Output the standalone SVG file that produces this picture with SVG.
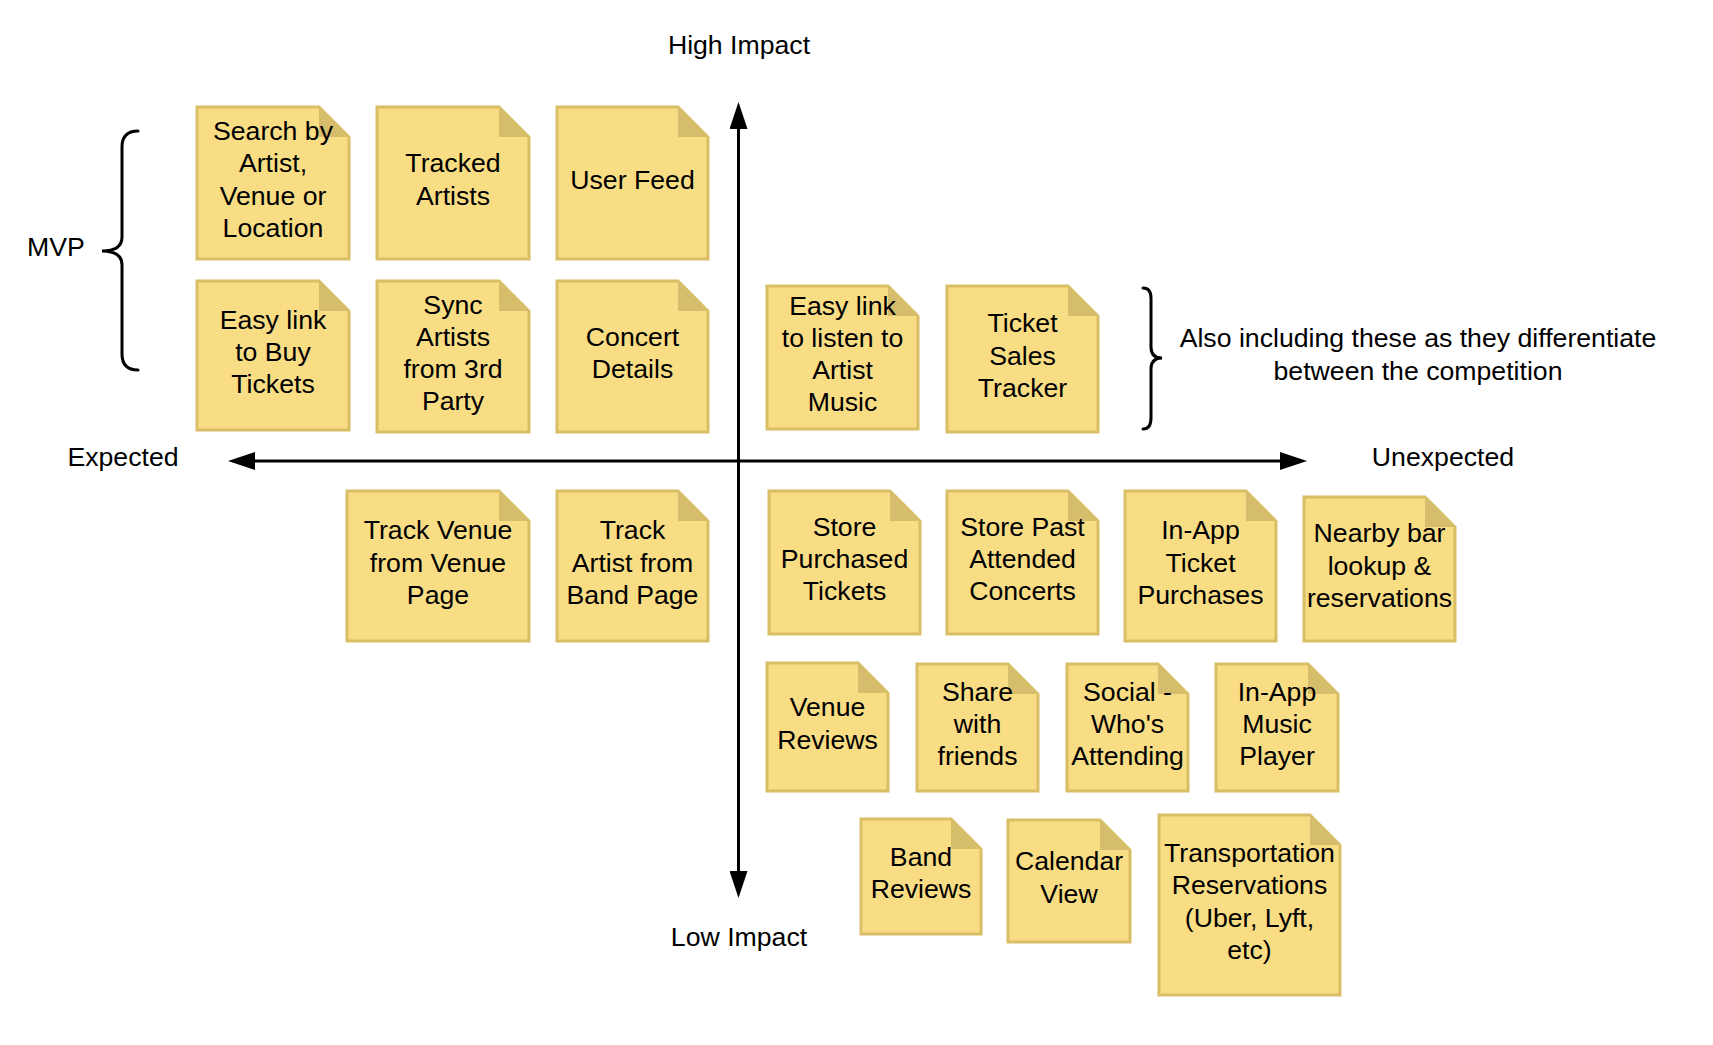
<svg xmlns="http://www.w3.org/2000/svg" width="1713" height="1045" viewBox="0 0 1713 1045">
<style>
  .note { fill: #F8DD84; stroke: #D9BE66; stroke-width: 3; stroke-linejoin: miter; }
  .fold { fill: #D6BD6C; stroke: none; }
  text { font-family: "Liberation Sans", Arial, sans-serif; font-size: 26.67px; fill: #000; text-anchor: middle; }
  .axis { stroke: #000; stroke-width: 3; fill: none; }
  .brace { stroke: #000; stroke-width: 3; fill: none; stroke-linecap: round; }
</style>
<defs>
  <marker id="arrow" markerUnits="userSpaceOnUse" markerWidth="27" markerHeight="18" refX="21" refY="9" orient="auto-start-reverse" viewBox="0 0 27 18">
    <path d="M0,0 L27,9 L0,18 Z" fill="#000"/>
  </marker>
</defs>
<rect width="1713" height="1045" fill="#fff"/>

<g id="connectors">
  <path class="axis" d="M738.5,108 V892" marker-start="url(#arrow)" marker-end="url(#arrow)"/>
  <path class="axis" d="M234,461 H1301" marker-start="url(#arrow)" marker-end="url(#arrow)"/>
</g>

<g id="labels">
  <text x="739" y="54">High Impact</text>
  <text x="739" y="946">Low Impact</text>
  <text x="123" y="466">Expected</text>
  <text x="1443" y="466">Unexpected</text>
  <text x="56" y="256">MVP</text>
  <text x="1418" y="347">Also including these as they differentiate</text>
  <text x="1418" y="380">between the competition</text>
</g>

<g id="braces">
  <path class="brace" d="M138,131 Q122,131 122,147 V237 Q122,251 102,251 Q122,251 122,265 V354 Q122,370 138,370"/>
  <path class="brace" d="M1143,288 Q1151,288 1151,298 V347 Q1151,358 1162,358 Q1151,358 1151,369 V418 Q1151,429 1143,429"/>
</g>

<g id="n1">
  <path class="note" d="M197,107 H319 L349,137 V259 H197 Z"/>
  <path class="fold" d="M319,107 V137 H349 Z"/>
  <text x="273" y="140.2">Search by</text><text x="273" y="172.4">Artist,</text><text x="273" y="204.6">Venue or</text><text x="273" y="236.8">Location</text>
</g>
<g id="n2">
  <path class="note" d="M377,107 H499 L529,137 V259 H377 Z"/>
  <path class="fold" d="M499,107 V137 H529 Z"/>
  <text x="453" y="172.4">Tracked</text><text x="453" y="204.6">Artists</text>
</g>
<g id="n3">
  <path class="note" d="M557,107 H678 L708,137 V259 H557 Z"/>
  <path class="fold" d="M678,107 V137 H708 Z"/>
  <text x="632.5" y="188.5">User Feed</text>
</g>
<g id="n4">
  <path class="note" d="M197,281 H319 L349,311 V430 H197 Z"/>
  <path class="fold" d="M319,281 V311 H349 Z"/>
  <text x="273" y="328.8">Easy link</text><text x="273" y="361">to Buy</text><text x="273" y="393.2">Tickets</text>
</g>
<g id="n5">
  <path class="note" d="M377,281 H499 L529,311 V432 H377 Z"/>
  <path class="fold" d="M499,281 V311 H529 Z"/>
  <text x="453" y="313.7">Sync</text><text x="453" y="345.9">Artists</text><text x="453" y="378.1">from 3rd</text><text x="453" y="410.3">Party</text>
</g>
<g id="n6">
  <path class="note" d="M557,281 H678 L708,311 V432 H557 Z"/>
  <path class="fold" d="M678,281 V311 H708 Z"/>
  <text x="632.5" y="345.9">Concert</text><text x="632.5" y="378.1">Details</text>
</g>
<g id="n7">
  <path class="note" d="M767,286 H888 L918,316 V429 H767 Z"/>
  <path class="fold" d="M888,286 V316 H918 Z"/>
  <text x="842.5" y="314.7">Easy link</text><text x="842.5" y="346.9">to listen to</text><text x="842.5" y="379.1">Artist</text><text x="842.5" y="411.3">Music</text>
</g>
<g id="n8">
  <path class="note" d="M947,286 H1068 L1098,316 V432 H947 Z"/>
  <path class="fold" d="M1068,286 V316 H1098 Z"/>
  <text x="1022.5" y="332.3">Ticket</text><text x="1022.5" y="364.5">Sales</text><text x="1022.5" y="396.7">Tracker</text>
</g>
<g id="n9">
  <path class="note" d="M347,491 H499 L529,521 V641 H347 Z"/>
  <path class="fold" d="M499,491 V521 H529 Z"/>
  <text x="438" y="539.3">Track Venue</text><text x="438" y="571.5">from Venue</text><text x="438" y="603.7">Page</text>
</g>
<g id="n10">
  <path class="note" d="M557,491 H678 L708,521 V641 H557 Z"/>
  <path class="fold" d="M678,491 V521 H708 Z"/>
  <text x="632.5" y="539.3">Track</text><text x="632.5" y="571.5">Artist from</text><text x="632.5" y="603.7">Band Page</text>
</g>
<g id="n11">
  <path class="note" d="M769,491 H890 L920,521 V634 H769 Z"/>
  <path class="fold" d="M890,491 V521 H920 Z"/>
  <text x="844.5" y="535.8">Store</text><text x="844.5" y="568">Purchased</text><text x="844.5" y="600.2">Tickets</text>
</g>
<g id="n12">
  <path class="note" d="M947,491 H1068 L1098,521 V634 H947 Z"/>
  <path class="fold" d="M1068,491 V521 H1098 Z"/>
  <text x="1022.5" y="535.8">Store Past</text><text x="1022.5" y="568">Attended</text><text x="1022.5" y="600.2">Concerts</text>
</g>
<g id="n13">
  <path class="note" d="M1125,491 H1246 L1276,521 V641 H1125 Z"/>
  <path class="fold" d="M1246,491 V521 H1276 Z"/>
  <text x="1200.5" y="539.3">In-App</text><text x="1200.5" y="571.5">Ticket</text><text x="1200.5" y="603.7">Purchases</text>
</g>
<g id="n14">
  <path class="note" d="M1304,497 H1425 L1455,527 V641 H1304 Z"/>
  <path class="fold" d="M1425,497 V527 H1455 Z"/>
  <text x="1379.5" y="542.3">Nearby bar</text><text x="1379.5" y="574.5">lookup &amp;</text><text x="1379.5" y="606.7">reservations</text>
</g>
<g id="n15">
  <path class="note" d="M767,663 H858 L888,693 V791 H767 Z"/>
  <path class="fold" d="M858,663 V693 H888 Z"/>
  <text x="827.5" y="716.4">Venue</text><text x="827.5" y="748.6">Reviews</text>
</g>
<g id="n16">
  <path class="note" d="M917,664 H1008 L1038,694 V791 H917 Z"/>
  <path class="fold" d="M1008,664 V694 H1038 Z"/>
  <text x="977.5" y="700.8">Share</text><text x="977.5" y="733">with</text><text x="977.5" y="765.2">friends</text>
</g>
<g id="n17">
  <path class="note" d="M1067,664 H1158 L1188,694 V791 H1067 Z"/>
  <path class="fold" d="M1158,664 V694 H1188 Z"/>
  <text x="1127.5" y="700.8">Social -</text><text x="1127.5" y="733">Who's</text><text x="1127.5" y="765.2">Attending</text>
</g>
<g id="n18">
  <path class="note" d="M1216,664 H1308 L1338,694 V791 H1216 Z"/>
  <path class="fold" d="M1308,664 V694 H1338 Z"/>
  <text x="1277" y="700.8">In-App</text><text x="1277" y="733">Music</text><text x="1277" y="765.2">Player</text>
</g>
<g id="n19">
  <path class="note" d="M861,819 H951 L981,849 V934 H861 Z"/>
  <path class="fold" d="M951,819 V849 H981 Z"/>
  <text x="921" y="865.9">Band</text><text x="921" y="898.1">Reviews</text>
</g>
<g id="n20">
  <path class="note" d="M1008,820 H1100 L1130,850 V942 H1008 Z"/>
  <path class="fold" d="M1100,820 V850 H1130 Z"/>
  <text x="1069" y="870.4">Calendar</text><text x="1069" y="902.6">View</text>
</g>
<g id="n21">
  <path class="note" d="M1159,815 H1310 L1340,845 V995 H1159 Z"/>
  <path class="fold" d="M1310,815 V845 H1340 Z"/>
  <text x="1249.5" y="862.2">Transportation</text><text x="1249.5" y="894.4">Reservations</text><text x="1249.5" y="926.6">(Uber, Lyft,</text><text x="1249.5" y="958.8">etc)</text>
</g>
</svg>
